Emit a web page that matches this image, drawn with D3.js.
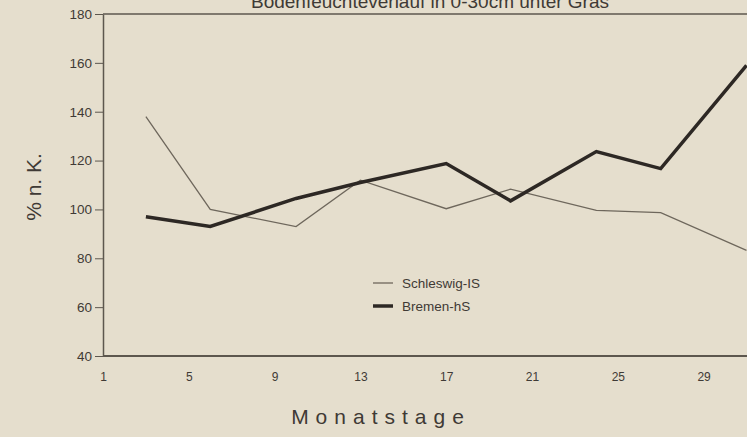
<!DOCTYPE html>
<html>
<head>
<meta charset="utf-8">
<script src="https://cdn.jsdelivr.net/npm/d3@7"></script>
<style>
  body { margin: 0; background: #e5decd; }
  svg { display: block; font-family: "Liberation Sans", Arial, sans-serif; }
</style>
</head>
<body>
<div id="chart"></div>
<script>
// data
var days = [3, 6, 10, 13, 17, 20, 24, 27, 31];
var schleswig = [138, 100, 93, 112, 100.3, 108.3, 99.6, 98.7, 83.2];
var bremen = [97, 93, 104.5, 111, 118.8, 103.5, 123.7, 116.7, 159];
var xTicks = [1, 5, 9, 13, 17, 21, 25, 29];
var yTicks = [40, 60, 80, 100, 120, 140, 160, 180];

var svgWidth = 747;
var svgHeight = 437;

var svg = d3.select("#chart").append("svg")
  .attr("width", svgWidth)
  .attr("height", svgHeight);

svg.append("rect")
  .attr("width", svgWidth)
  .attr("height", svgHeight)
  .attr("fill", "#e5decd");

var x = d3.scaleLinear().domain([1, 31]).range([103, 746.5]);
var y = d3.scaleLinear().domain([40, 180]).range([356, 14]);

var axisColor = "#5d574e";
var textColor = "#3f3a35";

// title (top half cut off like the scan)
svg.append("text")
  .attr("x", 430)
  .attr("y", 8)
  .attr("text-anchor", "middle")
  .attr("font-size", 19)
  .attr("fill", textColor)
  .text("Bodenfeuchteverlauf in 0-30cm unter Gras");

// top frame line
svg.append("line")
  .attr("x1", x(1)).attr("x2", svgWidth)
  .attr("y1", y(180)).attr("y2", y(180))
  .attr("stroke", axisColor)
  .attr("stroke-width", 1.5);

// y axis
var yAxis = svg.append("g")
  .attr("transform", `translate(${x(1)},0)`)
  .call(d3.axisLeft(y).tickValues(yTicks).tickSize(8).tickPadding(3).tickSizeOuter(0));
yAxis.select(".domain").attr("stroke", axisColor).attr("stroke-width", 1.5);
yAxis.selectAll(".tick line").attr("stroke", axisColor).attr("stroke-width", 1);
yAxis.selectAll(".tick text")
  .attr("font-size", 13.5)
  .attr("fill", textColor)
  .attr("font-family", "Liberation Sans, Arial, sans-serif");

// x axis
var xAxis = svg.append("g")
  .attr("transform", `translate(0,${y(40)})`)
  .call(d3.axisBottom(x).tickValues(xTicks).tickSize(0).tickPadding(16).tickSizeOuter(0));
xAxis.select(".domain")
  .attr("d", `M${x(1)},0H${svgWidth}`)
  .attr("stroke", axisColor)
  .attr("stroke-width", 2);
xAxis.selectAll(".tick text")
  .attr("font-size", 12)
  .attr("fill", textColor)
  .attr("font-family", "Liberation Sans, Arial, sans-serif");

// lines
var lineGen = d3.line()
  .x(d => x(d[0]))
  .y(d => y(d[1]));

svg.append("path")
  .datum(d3.zip(days, schleswig))
  .attr("d", lineGen)
  .attr("fill", "none")
  .attr("stroke", "#6e675c")
  .attr("stroke-width", 1.3)
  .attr("stroke-linejoin", "miter");

svg.append("path")
  .datum(d3.zip(days, bremen))
  .attr("d", lineGen)
  .attr("fill", "none")
  .attr("stroke", "#2d2824")
  .attr("stroke-width", 3.5)
  .attr("stroke-linejoin", "miter");

// legend
var legend = svg.append("g").attr("transform", "translate(373,283)");
legend.append("line")
  .attr("x1", 0).attr("x2", 20).attr("y1", 0).attr("y2", 0)
  .attr("stroke", "#6e675c").attr("stroke-width", 1.3);
legend.append("text")
  .attr("x", 29).attr("y", 5)
  .attr("font-size", 13.5).attr("fill", textColor)
  .text("Schleswig-IS");
legend.append("line")
  .attr("x1", 0).attr("x2", 20).attr("y1", 23).attr("y2", 23)
  .attr("stroke", "#2d2824").attr("stroke-width", 3.5);
legend.append("text")
  .attr("x", 29).attr("y", 28)
  .attr("font-size", 13.5).attr("fill", textColor)
  .text("Bremen-hS");

// axis titles
svg.append("text")
  .attr("transform", "translate(41,187) rotate(-90)")
  .attr("text-anchor", "middle")
  .attr("font-size", 21)
  .attr("fill", textColor)
  .text("% n. K.");

svg.append("text")
  .attr("x", 381)
  .attr("y", 424)
  .attr("text-anchor", "middle")
  .attr("font-size", 21)
  .attr("letter-spacing", 7)
  .attr("fill", textColor)
  .text("Monatstage");
</script>
</body>
</html>
